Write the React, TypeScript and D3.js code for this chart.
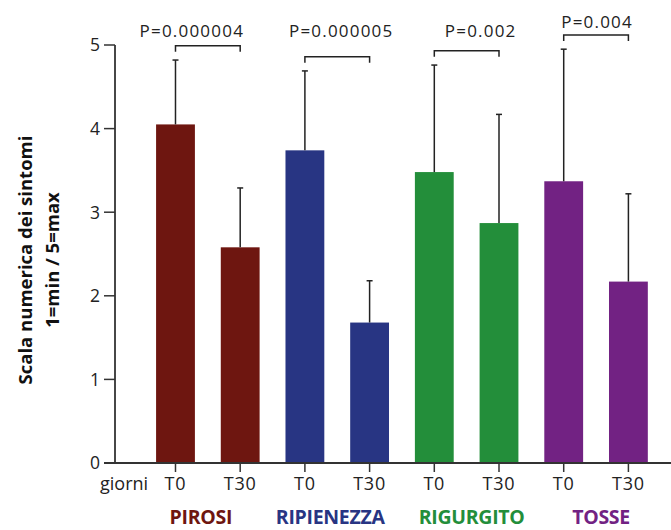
import React from 'react';
import * as d3 from 'd3';

const categories = ['PIROSI', 'RIPIENEZZA', 'RIGURGITO', 'TOSSE'];
const timepoints = ['T0', 'T30'];
const meanT0 = [4.05, 3.74, 3.48, 3.37];
const meanT30 = [2.58, 1.68, 2.87, 2.17];
const sdT0 = [0.77, 0.95, 1.28, 1.58];
const sdT30 = [0.71, 0.5, 1.3, 1.05];
const pValues = ['P=0.000004', 'P=0.000005', 'P=0.002', 'P=0.004'];
const yTicks = [0, 1, 2, 3, 4, 5];
const colors = ['#6e1610', '#283583', '#238e3a', '#722283'];

const width = 671;
const height = 530;
const font = "'Open Sans', sans-serif";
const axisColor = '#333';
// label nudges so the P text sits like in the original
const pShift = [-16, 4, 14, 1];
const catShift = [-7, -7, 5, 5];

const bars = categories.flatMap((c, i) => [
    { cat: i, tp: 0, mean: meanT0[i], sd: sdT0[i] },
    { cat: i, tp: 1, mean: meanT30[i], sd: sdT30[i] },
]);

const App = () => {
    const x = d3.scaleBand<number>()
        .domain(d3.range(bars.length))
        .range([130.2, 673.7])
        .padding(0.4);

    const y = d3.scaleLinear()
        .domain([0, 5])
        .range([463, 45]);

    const bw = x.bandwidth();
    const cx = (i: number) => (x(i) as number) + bw / 2;

    return (
        <svg width={width} height={height} style={{ position: 'absolute', left: 0, top: 0 }} fontFamily={font}>
            {/* bars */}
            {bars.map((b, i) => (
                <rect key={'b' + i} x={x(i)} y={y(b.mean)} width={bw} height={y(0) - y(b.mean)} fill={colors[b.cat]} />
            ))}
            {/* error bars, upper only */}
            {bars.map((b, i) => (
                <g key={'e' + i} stroke="#222" strokeWidth={1.5}>
                    <line x1={cx(i)} x2={cx(i)} y1={y(b.mean)} y2={y(b.mean + b.sd)} />
                    <line x1={cx(i) - 3} x2={cx(i) + 3} y1={y(b.mean + b.sd)} y2={y(b.mean + b.sd)} />
                </g>
            ))}
            {/* y axis */}
            <line x1={115} x2={115} y1={y(5)} y2={y(0)} stroke={axisColor} strokeWidth={1.8} />
            {yTicks.map(t => (
                <g key={'t' + t}>
                    <line x1={104} x2={115} y1={y(t)} y2={y(t)} stroke={axisColor} strokeWidth={1.5} />
                    <text x={100} y={y(t)} dy="0.36em" textAnchor="end" fontSize={17.5} fill="#222">{t}</text>
                </g>
            ))}
            {/* x axis */}
            <line x1={104} x2={width} y1={y(0)} y2={y(0)} stroke={axisColor} strokeWidth={1.8} />
            <text x={100} y={490} fontSize={18} fill="#222">giorni</text>
            {bars.map((b, i) => (
                <g key={'x' + i}>
                    <line x1={cx(i)} x2={cx(i)} y1={y(0)} y2={y(0) + 9} stroke={axisColor} strokeWidth={1.5} />
                    <text x={cx(i)} y={490} textAnchor="middle" fontSize={18} letterSpacing={0.8} fill="#222">{timepoints[b.tp]}</text>
                </g>
            ))}
            {/* category labels */}
            {categories.map((c, i) => (
                <text key={'c' + i} x={(cx(2 * i) + cx(2 * i + 1)) / 2 + catShift[i]} y={524} textAnchor="middle"
                    fontSize={19.5} fontWeight="bold" fill={colors[i]} letterSpacing={-0.3}>{c}</text>
            ))}
            {/* significance brackets */}
            {categories.map((c, i) => {
                const top = Math.max(meanT0[i] + sdT0[i], meanT30[i] + sdT30[i]) + 0.17;
                const by = y(top);
                const x0 = cx(2 * i);
                const x1 = cx(2 * i + 1);
                return (
                    <g key={'p' + i}>
                        <path d={`M${x0},${by + 6}V${by}H${x1}V${by + 6}`} fill="none" stroke="#222" strokeWidth={1.5} />
                        <text x={(x0 + x1) / 2 + pShift[i]} y={Math.min(37, by - 7)} textAnchor="middle" fontSize={17} letterSpacing={1.2} fill="#222">{pValues[i]}</text>
                    </g>
                );
            })}
            {/* y title */}
            <g transform={`translate(32,260) rotate(-90)`}>
                <text x={0} y={0} textAnchor="middle" fontSize={18.5} fontWeight="bold" fill="#111">Scala numerica dei sintomi</text>
                <text x={0} y={27} textAnchor="middle" fontSize={18.5} fontWeight="bold" fill="#111">1=min / 5=max</text>
            </g>
        </svg>
    );
};

export default App;
